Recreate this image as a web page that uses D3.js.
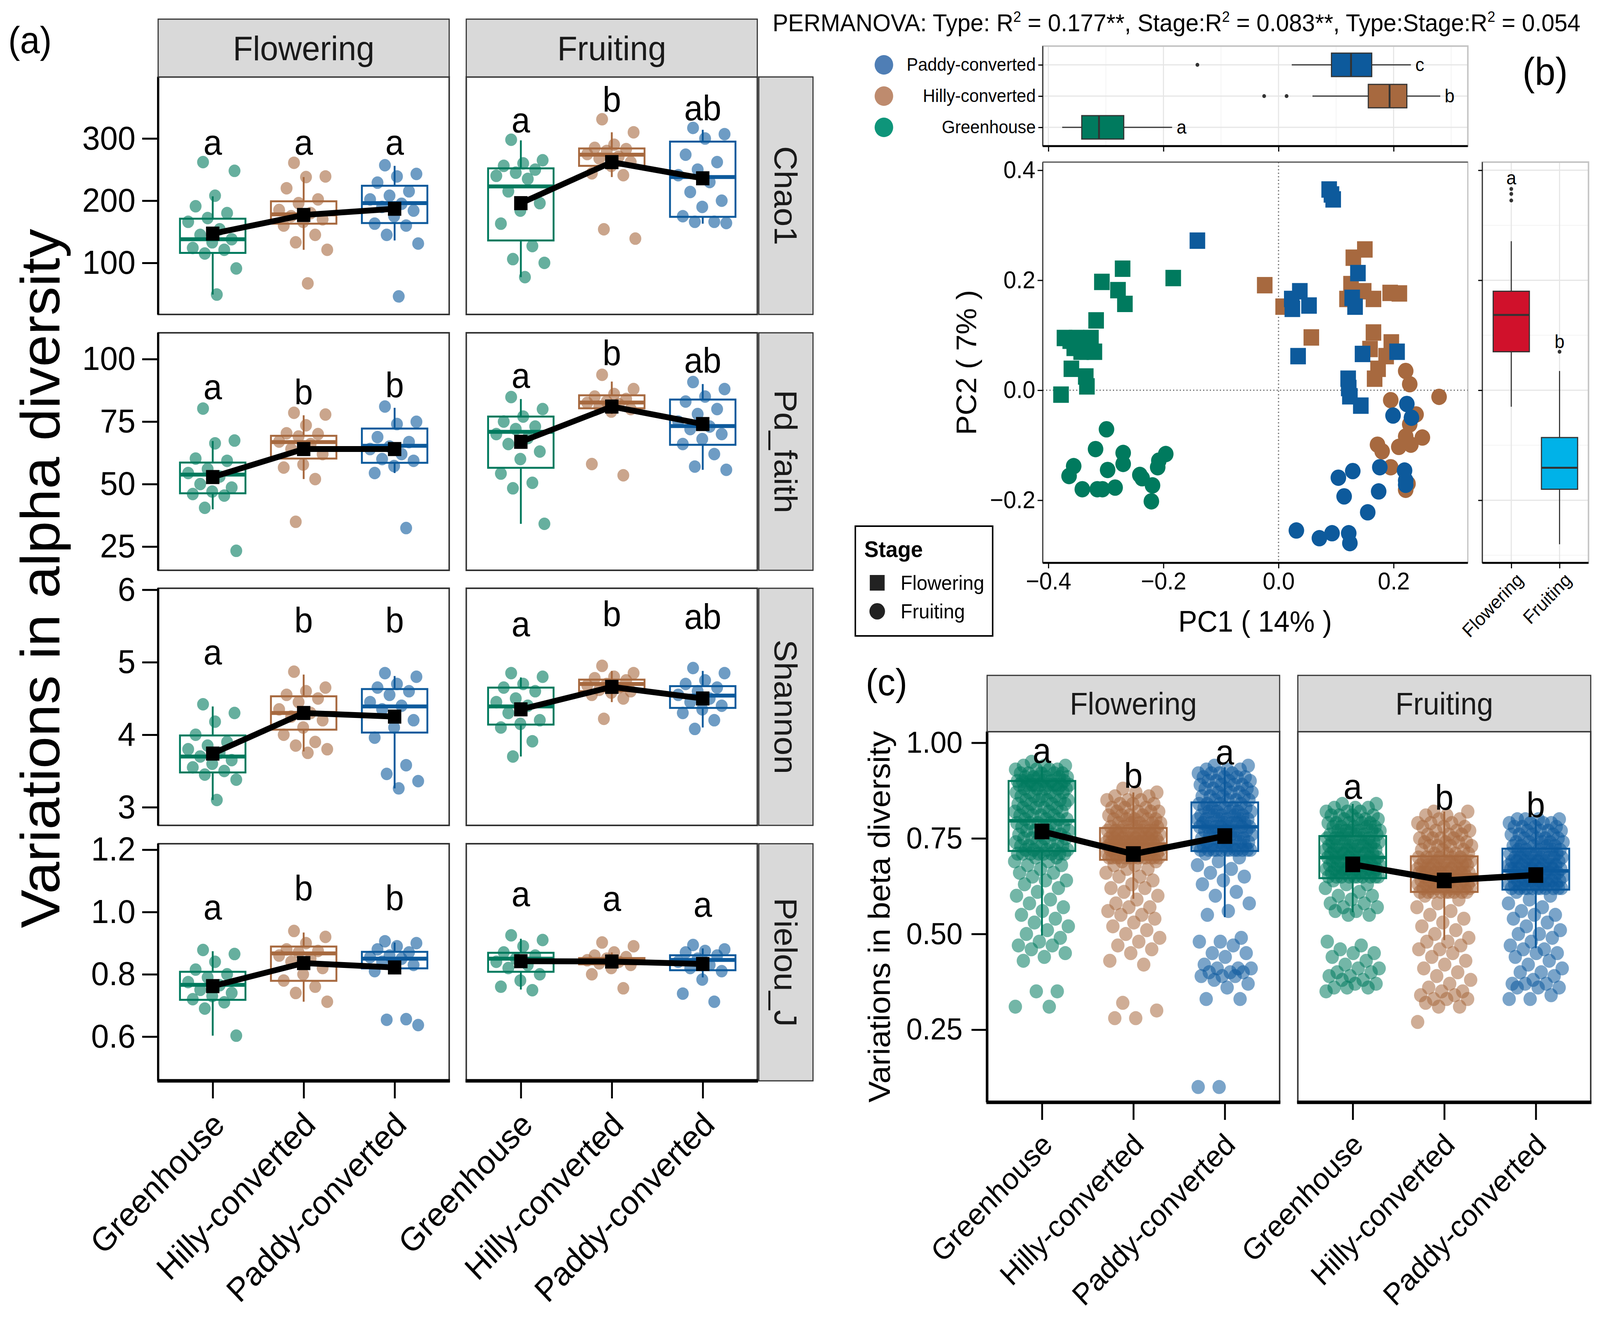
<!DOCTYPE html>
<html><head><meta charset="utf-8">
<script src="https://cdn.jsdelivr.net/npm/d3@7"></script>
<style>
html,body{margin:0;padding:0;background:#fff;overflow:hidden;width:100%;height:100%;}
svg{display:block;font-family:"Liberation Sans",Arial,Helvetica,sans-serif;width:100vw;height:100vh;}
</style></head><body>
<svg id="chart" viewBox="0 0 4310 3410" preserveAspectRatio="none"></svg>
<script>
// ---------------- DATA ----------------
const groups = ["Greenhouse", "Hilly-converted", "Paddy-converted"];
const stages = ["Flowering", "Fruiting"];
const typeColors = ["#007A5E", "#A7693F", "#0D5A9C"];
const legendColors = ["#0E957A", "#BE8B6E", "#4F7EB5"];
const stageColors = ["#D0112B", "#00B2E8"];

const metrics = ["Chao1", "Pd_faith", "Shannon", "Pielou_J"];
const metricDomains = [[17, 399], [15.5, 110.5], [2.75, 6.02], [0.458, 1.219]];
const metricTicks = [[100, 200, 300], [25, 50, 75, 100], [3, 4, 5, 6], [0.6, 0.8, 1.0, 1.2]];
const metricTickFormats = ["d", "d", "d", ".1f"];

// points: [stage][group]
const chao1Points = [
  [[262,248,208,191,180,172,166,154,145,138,133,124,121,115,91,49],
   [261,239,238,220,202,196,185,180,175,170,166,160,145,133,121,67],
   [257,243,239,229,215,208,202,195,190,184,175,163,160,145,131,46]],
  [[298,265,260,256,250,245,240,235,215,196,184,163,127,106,100,77],
   [331,310,290,285,283,280,275,271,268,262,256,244,241,154,139],
   [317,307,300,274,262,250,241,230,214,200,190,175,166,166,164]]
];
const pdPoints = [
  [[80.2,67.4,66.3,60.2,59.3,56,54.4,53,50,48.6,47,46,45.4,40.5,23.3],
   [78.5,77.8,73.5,70.3,70,69,67,66,64,62,57.8,56.6,52,34.9],
   [81,74.9,74,68.8,66.8,65,64,62,60,59.3,57.2,54.4,32.4]],
  [[84.8,80,77,75,73,72,70,68.4,66,63,60,54.2,50.5,48.3,34.1],
   [93.7,88,86,85,84,83,82.5,82,81,80,79,58,53.5],
   [90.8,88,85,83,80,78,75,73,72,70,68,66,62,57,55.7]]
];
const shannonPoints = [
  [[4.42,4.30,4.18,4.0,3.9,3.85,3.8,3.75,3.70,3.65,3.6,3.55,3.5,3.45,3.38,3.10],
   [4.87,4.65,4.6,4.55,4.5,4.45,4.35,4.3,4.25,4.2,4.1,4.0,3.9,3.85,3.8,3.75],
   [4.85,4.8,4.7,4.65,4.6,4.55,4.45,4.4,4.35,4.2,4.1,3.96,3.58,3.46,3.36,3.26]],
  [[4.85,4.8,4.7,4.65,4.6,4.5,4.45,4.4,4.3,4.2,4.15,4.1,3.91,3.70],
   [4.95,4.85,4.8,4.78,4.75,4.7,4.68,4.65,4.62,4.6,4.58,4.55,4.5,4.22],
   [4.92,4.85,4.75,4.7,4.65,4.6,4.55,4.5,4.45,4.4,4.35,4.3,4.2,4.08]]
];
const pielouPoints = [
  [[0.878,0.865,0.84,0.815,0.80,0.79,0.775,0.765,0.75,0.74,0.73,0.72,0.71,0.69,0.603],
   [0.939,0.92,0.9,0.88,0.875,0.87,0.86,0.85,0.84,0.82,0.8,0.78,0.76,0.74,0.712],
   [0.906,0.9,0.89,0.88,0.87,0.86,0.855,0.85,0.84,0.83,0.82,0.81,0.656,0.654,0.637]],
  [[0.925,0.91,0.89,0.87,0.86,0.85,0.84,0.83,0.82,0.8,0.78,0.76,0.749],
   [0.902,0.89,0.87,0.86,0.855,0.85,0.845,0.84,0.835,0.83,0.82,0.8,0.755],
   [0.894,0.88,0.875,0.87,0.86,0.85,0.84,0.83,0.82,0.81,0.783,0.738,0.712]]
];
// box stats [lo, q1, median, q3, hi]: [stage][group]
const chao1Boxes = [
  [[49,116,138,171,207],[121,163,178,199,238],[136,164,196,224,256]],
  [[77,136,223,252,297],[238,256,274,284,310],[163,174,238,295,314]]
];
const pdBoxes = [
  [[39.9,46.3,53.8,58.6,67.2],[52,60.2,66.8,69.3,77.5],[54.4,58.5,65.3,72.2,80.5]],
  [[34.1,56.5,70.9,77,84],[78,80.3,82.6,85.5,91],[55.7,65.7,73.2,83.8,90]]
];
const shannonBoxes = [
  [[3.10,3.48,3.70,3.99,4.39],[3.77,4.07,4.30,4.53,4.83],[3.26,4.03,4.39,4.63,4.81]],
  [[3.70,4.14,4.39,4.65,4.79],[4.45,4.60,4.70,4.76,4.88],[4.10,4.37,4.54,4.67,4.88]]
];
const pielouBoxes = [
  [[0.603,0.718,0.766,0.808,0.874],[0.712,0.779,0.867,0.889,0.934],[0.81,0.819,0.850,0.872,0.902]],
  [[0.751,0.808,0.850,0.869,0.914],[0.82,0.832,0.843,0.852,0.87],[0.79,0.813,0.846,0.861,0.883]]
];
const chao1Means = [[147,177,187],[196,262,236]];
const pdMeans = [[52.8,64,64],[66.9,81,74]];
const shannonMeans = [[3.74,4.30,4.25],[4.35,4.66,4.50]];
const pielouMeans = [[0.762,0.836,0.822],[0.842,0.841,0.833]];

const chao1Letters = [["a","a","a"],["a","b","ab"]];
const pdLetters = [["a","b","b"],["a","b","ab"]];
const shannonLetters = [["a","b","b"],["a","b","ab"]];
const pielouLetters = [["a","b","b"],["a","a","a"]];
const chao1LetterY = [[274,274,274],[310,343,329]];
const pdLetterY = [[83.9,81.9,84.7],[88.5,97.5,94.5]];
const shannonLetterY = [[4.97,5.41,5.41],[5.36,5.50,5.46]];
const pielouLetterY = [[0.976,1.037,1.006],[1.018,1.003,0.984]];

// beta diversity (hundredths), [stage][group]
const betaFloweringGreenhouse = "95 94 94 94 93 93 93 93 92 92 92 92 92 91 91 91 91 91 91 90 90 90 90 90 90 89 89 89 89 89 89 89 89 89 89 88 88 88 88 88 87 87 87 87 86 86 86 86 85 85 85 85 85 84 84 84 84 83 83 83 83 82 82 82 82 81 81 81 81 80 80 80 80 79 79 79 79 78 78 78 78 77 77 77 77 76 76 76 76 75 75 75 75 74 74 74 74 73 73 73 73 72 72 72 72 72 71 71 71 71 71 71 71 71 70 70 69 69 68 68 67 66 66 65 64 64 63 62 61 60 59 58 57 56 55 54 53 52 51 50 49 48 47 47 46 45 44 43 35 35 31 31";
const betaFloweringHilly = "88 87 87 86 86 85 85 85 84 84 84 83 83 83 82 82 82 82 81 81 81 81 80 80 80 80 80 79 79 79 79 79 78 78 78 78 78 77 77 77 77 77 77 77 76 76 76 76 76 76 76 76 75 75 75 75 75 75 75 75 74 74 74 74 74 74 74 74 74 74 74 74 74 73 73 73 73 73 73 73 72 72 72 72 72 72 72 72 71 71 71 71 71 71 71 71 71 70 70 70 70 70 70 70 70 70 70 70 70 70 69 69 68 68 67 67 66 65 65 64 63 62 62 61 60 59 58 57 57 56 55 55 54 53 52 51 50 49 48 47 46 45 43 42 32 30 28 28";
const betaFloweringPaddy = "94 94 93 93 93 92 92 92 92 91 91 91 91 90 90 90 90 89 89 89 89 88 88 88 88 87 87 87 87 86 86 86 86 85 85 85 85 84 84 84 84 83 83 83 83 83 82 82 82 82 82 81 81 81 81 81 80 80 80 80 80 80 79 79 79 79 79 79 78 78 78 78 78 78 78 77 77 77 77 77 76 76 76 76 76 75 75 75 75 75 74 74 74 74 74 73 73 73 73 73 73 72 72 72 72 72 72 72 72 72 72 72 72 71 70 69 68 67 66 65 64 63 61 60 58 56 55 49 48 48 47 45 45 44 42 41 41 41 40 40 40 39 39 39 38 37 36 33 33 10 10";
const betaFruitingGreenhouse = "84 84 83 83 83 82 82 82 81 81 81 81 80 80 80 80 79 79 79 79 79 78 78 78 78 78 77 77 77 77 77 77 76 76 76 76 76 75 75 75 75 75 75 74 74 74 74 74 74 73 73 73 73 73 73 72 72 72 72 72 72 72 71 71 71 71 71 71 71 70 70 70 70 70 70 69 69 69 69 69 69 69 68 68 68 68 68 68 68 67 67 67 67 67 67 67 66 66 66 66 66 66 66 65 65 65 65 65 65 65 65 65 65 64 63 63 62 61 60 60 59 58 58 57 57 56 56 55 55 48 47 46 45 45 44 43 42 41 41 40 40 39 39 38 38 37 37 36 36 36 35";
const betaFruitingHilly = "82 82 81 81 80 80 79 79 79 78 78 78 77 77 77 76 76 76 75 75 75 75 74 74 74 74 73 73 73 73 72 72 72 71 71 71 71 70 70 70 70 70 70 69 69 69 69 69 69 69 68 68 68 68 68 68 68 67 67 67 67 67 67 67 66 66 66 66 66 66 66 66 66 66 66 65 65 65 65 65 65 65 64 64 64 64 64 64 64 63 63 63 63 63 63 63 62 62 62 62 62 62 62 62 61 61 61 61 61 61 61 61 61 60 59 58 57 56 55 54 53 52 51 50 49 48 48 47 46 46 45 44 43 42 41 40 39 38 37 36 35 35 34 34 33 33 33 32 31 31 27";
const betaFruitingPaddy = "80 80 80 80 79 79 79 79 78 78 78 78 77 77 77 77 76 76 76 76 75 75 75 75 74 74 74 74 74 73 73 73 73 73 72 72 72 72 72 71 71 71 71 71 71 70 70 70 70 70 70 70 69 69 69 69 69 69 69 68 68 68 68 68 68 68 67 67 67 67 67 67 67 67 67 66 66 66 66 66 66 65 65 65 65 65 65 65 64 64 64 64 64 64 64 63 63 63 63 63 63 63 62 62 62 62 62 62 62 62 62 62 62 61 60 59 58 57 56 55 55 54 53 52 51 50 50 49 48 47 46 46 45 45 44 43 42 41 40 40 39 38 37 37 37 36 36 36 34 33 33";
const betaPoints = [
  [betaFloweringGreenhouse, betaFloweringHilly, betaFloweringPaddy],
  [betaFruitingGreenhouse, betaFruitingHilly, betaFruitingPaddy]
];
const betaBoxes = [
  [[0.496,0.717,0.796,0.90,0.936],[0.592,0.694,0.735,0.777,0.87],[0.544,0.717,0.78,0.844,0.936]],
  [[0.557,0.646,0.70,0.756,0.84],[0.484,0.61,0.655,0.703,0.82],[0.463,0.616,0.665,0.723,0.80]]
];
const betaMeans = [[0.768,0.709,0.756],[0.682,0.640,0.654]];
const betaLetters = [["a","b","a"],["a","b","b"]];
const betaLetterY = [[0.947,0.882,0.943],[0.853,0.825,0.805]];
const betaDomain = [0.060, 1.029];
const betaTicks = [0.25, 0.50, 0.75, 1.00];

// PCoA coordinates [PC1, PC2]
const pcoaGreenhouseFlowering = [[-0.271,0.221],[-0.307,0.197],[-0.279,0.182],[-0.267,0.157],[-0.183,0.204],[-0.317,0.127],[-0.372,0.095],[-0.351,0.095],[-0.326,0.095],[-0.362,0.090],[-0.330,0.085],[-0.355,0.077],[-0.337,0.077],[-0.343,0.070],[-0.320,0.070],[-0.360,0.039],[-0.335,0.025],[-0.333,0.007],[-0.378,-0.008]];
const pcoaGreenhouseFruiting = [[-0.299,-0.071],[-0.318,-0.107],[-0.270,-0.114],[-0.356,-0.138],[-0.364,-0.156],[-0.297,-0.145],[-0.270,-0.134],[-0.241,-0.154],[-0.208,-0.128],[-0.196,-0.116],[-0.210,-0.140],[-0.219,-0.173],[-0.221,-0.202],[-0.341,-0.180],[-0.315,-0.180],[-0.306,-0.180],[-0.284,-0.177],[-0.237,-0.160]];
const pcoaHillyFlowering = [[0.150,0.256],[0.130,0.241],[-0.024,0.191],[0.126,0.193],[0.148,0.180],[0.165,0.166],[0.194,0.177],[0.210,0.176],[0.119,0.166],[0.057,0.096],[0.165,0.105],[0.159,0.075],[0.196,0.087],[0.187,0.062],[0.173,0.039],[0.167,0.021],[0.008,0.152]];
const pcoaHillyFruiting = [[0.221,0.035],[0.228,0.011],[0.279,-0.012],[0.195,-0.018],[0.239,-0.044],[0.228,-0.062],[0.250,-0.086],[0.221,-0.084],[0.172,-0.099],[0.209,-0.103],[0.230,-0.099],[0.180,-0.111],[0.195,-0.140],[0.221,-0.181],[0.225,-0.170]];
const pcoaPaddyFlowering = [[0.088,0.365],[0.095,0.347],[0.092,0.356],[-0.141,0.272],[0.138,0.213],[0.037,0.180],[0.023,0.166],[0.053,0.154],[0.024,0.148],[0.128,0.168],[0.133,0.152],[0.034,0.062],[0.146,0.066],[0.206,0.070],[0.121,0.021],[0.122,0.004],[0.124,-0.011],[0.143,-0.028]];
const pcoaPaddyFruiting = [[0.223,-0.025],[0.199,-0.046],[0.231,-0.050],[0.176,-0.140],[0.219,-0.146],[0.221,-0.164],[0.221,-0.172],[0.129,-0.147],[0.104,-0.159],[0.114,-0.193],[0.174,-0.184],[0.155,-0.222],[0.031,-0.255],[0.071,-0.269],[0.093,-0.260],[0.122,-0.260],[0.124,-0.278]];
const pcoaSets = [
  [pcoaGreenhouseFlowering, pcoaGreenhouseFruiting],
  [pcoaHillyFlowering, pcoaHillyFruiting],
  [pcoaPaddyFlowering, pcoaPaddyFruiting]
];
const pc1Domain = [-0.4097, 0.329];
const pc2Domain = [-0.3139, 0.4148];
const pcTicks = [-0.4, -0.2, 0.0, 0.2];
const pc2Ticks = [-0.2, 0.0, 0.2, 0.4];
// PC1 box per type [lo,q1,med,q3,hi]
const pc1Boxes = [[-0.376,-0.342,-0.312,-0.269,-0.185],[0.059,0.156,0.193,0.223,0.281],[0.023,0.092,0.126,0.162,0.230]];
const pc1Outliers = [[],[-0.025,0.014],[-0.141]];
const pc1Letters = ["a","b","c"];
// PC2 box per stage
const pc2Boxes = [[-0.030,0.070,0.137,0.180,0.271],[-0.280,-0.180,-0.141,-0.086,0.035]];
const pc2Outliers = [[0.366,0.357,0.345],[0.070]];
const pc2Letters = ["a","b"];
const pc2LetterY = [0.374, 0.077];

// ---------------- DRAWING ----------------
const svg = d3.select("#chart");
svg.append("rect").attr("width",4310).attr("height",3410).attr("fill","#fff");

function jit(j){ return ((j*0.6180339887 + 0.31) % 1) * 2 - 1; }

function styleAxis(g, fs, sw){
  g.attr("font-size", fs).attr("font-family", null);
  g.select(".domain").remove();
  g.selectAll(".tick line").attr("stroke","#000").attr("stroke-width",sw);
  g.selectAll(".tick text").attr("fill","#000");
}
function vbox(g, cx, bw, y, st, color, sw, msw, fill, bstroke){
  const sc = bstroke || color;
  g.append("line").attr("x1",cx).attr("x2",cx).attr("y1",y(st[4])).attr("y2",y(st[3])).attr("stroke",sc).attr("stroke-width",sw);
  g.append("line").attr("x1",cx).attr("x2",cx).attr("y1",y(st[1])).attr("y2",y(st[0])).attr("stroke",sc).attr("stroke-width",sw);
  g.append("rect").attr("x",cx-bw/2).attr("y",y(st[3])).attr("width",bw).attr("height",y(st[1])-y(st[3]))
    .attr("fill",fill||"none").attr("stroke",sc).attr("stroke-width",sw);
  g.append("line").attr("x1",cx-bw/2).attr("x2",cx+bw/2).attr("y1",y(st[2])).attr("y2",y(st[2])).attr("stroke",sc).attr("stroke-width",msw);
}
function hbox(g, cy, bh, x, st, fill, sw, msw){
  g.append("line").attr("y1",cy).attr("y2",cy).attr("x1",x(st[0])).attr("x2",x(st[1])).attr("stroke","#333").attr("stroke-width",sw);
  g.append("line").attr("y1",cy).attr("y2",cy).attr("x1",x(st[3])).attr("x2",x(st[4])).attr("stroke","#333").attr("stroke-width",sw);
  g.append("rect").attr("y",cy-bh/2).attr("x",x(st[1])).attr("height",bh).attr("width",x(st[3])-x(st[1]))
    .attr("fill",fill).attr("stroke","#333").attr("stroke-width",sw);
  g.append("line").attr("y1",cy-bh/2).attr("y2",cy+bh/2).attr("x1",x(st[2])).attr("x2",x(st[2])).attr("stroke","#333").attr("stroke-width",msw);
}
function strip(g, x0, y0, w, h, label, fs, vertical){
  g.append("rect").attr("x",x0).attr("y",y0).attr("width",w).attr("height",h)
    .attr("fill","#D9D9D9").attr("stroke","#333").attr("stroke-width",3);
  const cx = x0 + w/2, cy = y0 + h/2;
  const t = g.append("text").attr("x",cx).attr("y",cy).attr("dy","0.35em").attr("text-anchor","middle")
    .attr("font-size",fs).attr("fill","#1A1A1A").text(label);
  if (vertical) t.attr("transform",`rotate(90,${cx},${cy})`);
}

// ---------- Panel (a) ----------
const aCols = [[426,1210],[1256,2040]];
const aRows = [[197,805],[852,1460],[1506,2113],[2160,2767]];
const aPoints = [chao1Points, pdPoints, shannonPoints, pielouPoints];
const aBoxes = [chao1Boxes, pdBoxes, shannonBoxes, pielouBoxes];
const aMeans = [chao1Means, pdMeans, shannonMeans, pielouMeans];
const aLetters = [chao1Letters, pdLetters, shannonLetters, pielouLetters];
const aLetterY = [chao1LetterY, pdLetterY, shannonLetterY, pielouLetterY];

const gA = svg.append("g");
metrics.forEach((m, r) => {
  const y = d3.scaleLinear().domain(metricDomains[r]).range([aRows[r][1], aRows[r][0]]);
  stages.forEach((s, c) => {
    const x = d3.scalePoint().domain(groups).range(aCols[c]).padding(0.6);
    const unit = x.step();
    const g = gA.append("g");
    g.append("rect").attr("x",aCols[c][0]).attr("y",aRows[r][0]).attr("width",aCols[c][1]-aCols[c][0])
      .attr("height",aRows[r][1]-aRows[r][0]).attr("fill","#fff");
    groups.forEach((grp, gi) => {
      aPoints[r][c][gi].forEach((v, j) => {
        g.append("circle").attr("cx", x(grp) + jit(j)*unit*0.28).attr("cy", y(v)).attr("r",16)
          .attr("fill", typeColors[gi]).attr("fill-opacity",0.6);
      });
    });
    groups.forEach((grp, gi) => {
      vbox(g, x(grp), unit*0.72, y, aBoxes[r][c][gi], typeColors[gi], 5, 10);
    });
    const line = d3.line().x((d,i)=>x(groups[i])).y(d=>y(d));
    g.append("path").attr("d", line(aMeans[r][c])).attr("fill","none").attr("stroke","#000").attr("stroke-width",15);
    aMeans[r][c].forEach((v, gi) => {
      g.append("rect").attr("x",x(groups[gi])-18).attr("y",y(v)-18).attr("width",36).attr("height",36).attr("fill","#000");
    });
    aLetters[r][c].forEach((L, gi) => {
      g.append("text").attr("x",x(groups[gi])).attr("y",y(aLetterY[r][c][gi])).attr("text-anchor","middle")
        .attr("font-size",90).attr("fill","#000").text(L);
    });
    g.append("rect").attr("x",aCols[c][0]).attr("y",aRows[r][0]).attr("width",aCols[c][1]-aCols[c][0])
      .attr("height",aRows[r][1]-aRows[r][0]).attr("fill","none").attr("stroke","#333").attr("stroke-width",4);
    if (c === 0) {
      const ax = g.append("g").attr("transform",`translate(${aCols[0][0]},0)`)
        .call(d3.axisLeft(y).tickValues(metricTicks[r]).tickSize(43).tickPadding(18).tickFormat(d3.format(metricTickFormats[r])));
      styleAxis(ax, 86, 5);
      g.append("line").attr("x1",aCols[0][0]).attr("x2",aCols[0][0]).attr("y1",aRows[r][0]).attr("y2",aRows[r][1]).attr("stroke","#000").attr("stroke-width",6);
    }
    if (r === 3) {
      const ax = g.append("g").attr("transform",`translate(0,${aRows[3][1]})`)
        .call(d3.axisBottom(x).tickSize(45));
      styleAxis(ax, 85, 5);
      ax.selectAll(".tick text").attr("x",0).attr("y",0).attr("dy","0.72em").attr("text-anchor","end")
        .attr("transform","translate(-7,74) rotate(-45)");
      g.append("line").attr("x1",aCols[c][0]-2).attr("x2",aCols[c][1]+2).attr("y1",aRows[3][1]).attr("y2",aRows[3][1]).attr("stroke","#000").attr("stroke-width",9);
    }
    if (r === 0) strip(g, aCols[c][0], 49, aCols[c][1]-aCols[c][0], aRows[0][0]-49, s, 88, false);
    if (c === 1) strip(g, 2044, aRows[r][0], 146, aRows[r][1]-aRows[r][0], m, 86, true);
  });
});
gA.append("text").attr("x",160).attr("y",1481).attr("text-anchor","middle").attr("font-size",148)
  .attr("transform","rotate(-90,160,1481)").attr("fill","#000").text("Variations in alpha diversity");
svg.append("text").attr("x",22).attr("y",136).attr("font-size",96).attr("fill","#000").text("(a)");

// ---------- Panel (b) ----------
const gB = svg.append("g");
const bX0 = 2809, bX1 = 3954;
const xPC = d3.scaleLinear().domain(pc1Domain).range([bX0, bX1]);
const yPC = d3.scaleLinear().domain(pc2Domain).range([1441, 415]);

// PERMANOVA title
const pt = gB.append("text").attr("x",2081).attr("y",80).attr("font-size",63).attr("fill","#000");
const ptParts = [["PERMANOVA: Type: R",0],["2",1],[" = 0.177**, Stage:R",0],["2",1],[" = 0.083**, Type:Stage:R",0],["2",1],[" = 0.054",0]];
ptParts.forEach((p,i) => {
  const ts = pt.append("tspan").text(p[0]);
  if (p[1]) ts.attr("font-size",38).attr("dy",-24);
  else if (i>0 && ptParts[i-1][1]) ts.attr("dy",24);
});

// top boxplot (PC1 by type)
const tY0 = 118, tY1 = 374;
const yType = d3.scalePoint().domain(groups).range([tY1, tY0]).padding(0.6);
const gT = gB.append("g");
gT.append("rect").attr("x",bX0).attr("y",tY0).attr("width",bX1-bX0).attr("height",tY1-tY0).attr("fill","#fff");
[-0.3,-0.1,0.1,0.3].forEach(v => gT.append("line").attr("x1",xPC(v)).attr("x2",xPC(v)).attr("y1",tY0).attr("y2",tY1).attr("stroke","#F3F3F3").attr("stroke-width",2));
pcTicks.forEach(v => gT.append("line").attr("x1",xPC(v)).attr("x2",xPC(v)).attr("y1",tY0).attr("y2",tY1).attr("stroke","#E6E6E6").attr("stroke-width",3));
groups.forEach(gname => gT.append("line").attr("x1",bX0).attr("x2",bX1).attr("y1",yType(gname)).attr("y2",yType(gname)).attr("stroke","#E6E6E6").attr("stroke-width",3));
groups.forEach((gname, gi) => {
  hbox(gT, yType(gname), yType.step()*0.75, xPC, pc1Boxes[gi], typeColors[gi], 3, 5);
  pc1Outliers[gi].forEach(v => gT.append("circle").attr("cx",xPC(v)).attr("cy",yType(gname)).attr("r",5).attr("fill","#333"));
  gT.append("text").attr("x",xPC(pc1Boxes[gi][4])+12).attr("y",yType(gname)+16).attr("font-size",48).attr("fill","#000").text(pc1Letters[gi]);
});
gT.append("rect").attr("x",bX0).attr("y",tY0).attr("width",bX1-bX0).attr("height",tY1-tY0).attr("fill","none").attr("stroke","#C4C4C4").attr("stroke-width",4);
gT.append("line").attr("x1",bX0).attr("x2",bX0).attr("y1",tY0).attr("y2",tY1).attr("stroke","#333").attr("stroke-width",3);
gT.append("line").attr("x1",bX0).attr("x2",bX1).attr("y1",tY1).attr("y2",tY1).attr("stroke","#000").attr("stroke-width",5);
{
  const ax = gT.append("g").attr("transform",`translate(${bX0},0)`).call(d3.axisLeft(yType).tickSize(12).tickPadding(7));
  styleAxis(ax, 46, 3);
  const bx = gT.append("g").attr("transform",`translate(0,${tY1})`).call(d3.axisBottom(xPC).tickValues(pcTicks).tickSize(14).tickFormat(""));
  styleAxis(bx, 46, 3);
}
groups.forEach((gname, gi) => gT.append("circle").attr("cx",2381).attr("cy",yType(gname)).attr("r",25).attr("fill",legendColors[gi]));

// scatter
const gS = gB.append("g");
gS.append("rect").attr("x",bX0).attr("y",415).attr("width",bX1-bX0).attr("height",1441-415).attr("fill","#fff")
  .attr("stroke","#BDBDBD").attr("stroke-width",3);
gS.append("line").attr("x1",xPC(0)).attr("x2",xPC(0)).attr("y1",415).attr("y2",1441).attr("stroke","#666").attr("stroke-width",3).attr("stroke-dasharray","3,6");
gS.append("line").attr("x1",bX0).attr("x2",bX1).attr("y1",yPC(0)).attr("y2",yPC(0)).attr("stroke","#666").attr("stroke-width",3).attr("stroke-dasharray","3,6");
pcoaSets.forEach((sets, gi) => {
  sets.forEach((pts, si) => {
    pts.forEach(p => {
      if (si === 0) {
        gS.append("rect").attr("x",xPC(p[0])-21).attr("y",yPC(p[1])-21).attr("width",42).attr("height",42).attr("fill",typeColors[gi]);
      } else {
        gS.append("circle").attr("cx",xPC(p[0])).attr("cy",yPC(p[1])).attr("r",21).attr("fill",typeColors[gi]);
      }
    });
  });
});
gS.append("line").attr("x1",bX0).attr("x2",bX0).attr("y1",415).attr("y2",1441).attr("stroke","#333").attr("stroke-width",3);
gS.append("line").attr("x1",bX0).attr("x2",bX1).attr("y1",415).attr("y2",415).attr("stroke","#555").attr("stroke-width",3);
gS.append("line").attr("x1",bX0).attr("x2",bX1).attr("y1",1441).attr("y2",1441).attr("stroke","#000").attr("stroke-width",5);
{
  const ax = gS.append("g").attr("transform",`translate(${bX0},0)`).call(d3.axisLeft(yPC).tickValues(pc2Ticks).tickSize(14).tickPadding(6).tickFormat(d3.format(".1f")));
  styleAxis(ax, 62, 3);
  const bx = gS.append("g").attr("transform",`translate(0,1441)`).call(d3.axisBottom(xPC).tickValues(pcTicks).tickSize(14).tickPadding(10).tickFormat(d3.format(".1f")));
  styleAxis(bx, 62, 3);
}
gS.append("text").attr("x",3381).attr("y",1617).attr("text-anchor","middle").attr("font-size",76).attr("fill","#000").text("PC1 ( 14% )");
gS.append("text").attr("x",2630).attr("y",928).attr("text-anchor","middle").attr("font-size",76).attr("fill","#000")
  .attr("transform","rotate(-90,2630,928)").text("PC2 ( 7% )");

// right boxplot (PC2 by stage)
const rX0 = 3993, rX1 = 4279;
const xStage = d3.scalePoint().domain(stages).range([rX0, rX1]).padding(0.6);
const gR = gB.append("g");
gR.append("rect").attr("x",rX0).attr("y",415).attr("width",rX1-rX0).attr("height",1441-415).attr("fill","#fff");
[-0.3,-0.1,0.1,0.3].forEach(v => gR.append("line").attr("x1",rX0).attr("x2",rX1).attr("y1",yPC(v)).attr("y2",yPC(v)).attr("stroke","#F3F3F3").attr("stroke-width",2));
pc2Ticks.forEach(v => gR.append("line").attr("x1",rX0).attr("x2",rX1).attr("y1",yPC(v)).attr("y2",yPC(v)).attr("stroke","#E6E6E6").attr("stroke-width",3));
stages.forEach(s => gR.append("line").attr("x1",xStage(s)).attr("x2",xStage(s)).attr("y1",415).attr("y2",1441).attr("stroke","#E6E6E6").attr("stroke-width",3));
stages.forEach((s, si) => {
  vbox(gR, xStage(s), xStage.step()*0.75, yPC, pc2Boxes[si], "#333", 3, 5, stageColors[si], "#333");
  pc2Outliers[si].forEach(v => gR.append("circle").attr("cx",xStage(s)).attr("cy",yPC(v)).attr("r",5).attr("fill","#333"));
  gR.append("text").attr("x",xStage(s)).attr("y",yPC(pc2LetterY[si])).attr("text-anchor","middle").attr("font-size",48).attr("fill","#000").text(pc2Letters[si]);
});
gR.append("rect").attr("x",rX0).attr("y",415).attr("width",rX1-rX0).attr("height",1441-415).attr("fill","none").attr("stroke","#C4C4C4").attr("stroke-width",4);
gR.append("line").attr("x1",rX0).attr("x2",rX0).attr("y1",415).attr("y2",1441).attr("stroke","#333").attr("stroke-width",3);
gR.append("line").attr("x1",rX0).attr("x2",rX1).attr("y1",1441).attr("y2",1441).attr("stroke","#000").attr("stroke-width",5);
{
  const ax = gR.append("g").attr("transform",`translate(${rX0},0)`).call(d3.axisLeft(yPC).tickValues(pc2Ticks).tickSize(11).tickFormat(""));
  styleAxis(ax, 40, 3);
  const bx = gR.append("g").attr("transform",`translate(0,1441)`).call(d3.axisBottom(xStage).tickSize(14));
  styleAxis(bx, 48, 3);
  bx.selectAll(".tick text").attr("x",0).attr("y",0).attr("dy","0.72em").attr("text-anchor","end")
    .attr("transform","translate(10,22) rotate(-45)");
}

// Stage legend
const gL = gB.append("g");
gL.append("rect").attr("x",2304).attr("y",1347).attr("width",370).attr("height",281).attr("fill","#fff").attr("stroke","#000").attr("stroke-width",4);
gL.append("text").attr("x",2328).attr("y",1426).attr("font-size",58).attr("font-weight","bold").attr("fill","#000").text("Stage");
gL.append("rect").attr("x",2343).attr("y",1472).attr("width",40).attr("height",40).attr("fill","#222");
gL.append("circle").attr("cx",2363).attr("cy",1565).attr("r",21).attr("fill","#222");
gL.append("text").attr("x",2426).attr("y",1510).attr("font-size",52).attr("fill","#000").text(stages[0]);
gL.append("text").attr("x",2426).attr("y",1583).attr("font-size",52).attr("fill","#000").text(stages[1]);

svg.append("text").attr("x",4101).attr("y",218).attr("font-size",100).attr("fill","#000").text("(b)");

// ---------- Panel (c) ----------
const cCols = [[2659,3447],[3496,4285]];
const cY0 = 1873, cY1 = 2822;
const yBeta = d3.scaleLinear().domain(betaDomain).range([cY1, cY0]);
const gC = svg.append("g");
stages.forEach((s, c) => {
  const x = d3.scalePoint().domain(groups).range(cCols[c]).padding(0.6);
  const unit = x.step();
  const g = gC.append("g");
  g.append("rect").attr("x",cCols[c][0]).attr("y",cY0).attr("width",cCols[c][1]-cCols[c][0]).attr("height",cY1-cY0).attr("fill","#fff");
  groups.forEach((grp, gi) => vbox(g, x(grp), unit*0.73, yBeta, betaBoxes[c][gi], typeColors[gi], 5, 9));
  groups.forEach((grp, gi) => {
    const vals = betaPoints[c][gi].trim().split(/\s+/).map(d => +d/100);
    vals.forEach((v, j) => {
      g.append("circle").attr("cx", x(grp) + jit(j)*unit*0.30).attr("cy", yBeta(v)).attr("r",18)
        .attr("fill", typeColors[gi]).attr("fill-opacity",0.55);
    });
  });
  const line = d3.line().x((d,i)=>x(groups[i])).y(d=>yBeta(d));
  g.append("path").attr("d", line(betaMeans[c])).attr("fill","none").attr("stroke","#000").attr("stroke-width",16);
  betaMeans[c].forEach((v, gi) => {
    g.append("rect").attr("x",x(groups[gi])-20).attr("y",yBeta(v)-20).attr("width",40).attr("height",40).attr("fill","#000");
  });
  betaLetters[c].forEach((L, gi) => {
    g.append("text").attr("x",x(groups[gi])).attr("y",yBeta(betaLetterY[c][gi])).attr("text-anchor","middle")
      .attr("font-size",90).attr("fill","#000").text(L);
  });
  g.append("rect").attr("x",cCols[c][0]).attr("y",cY0).attr("width",cCols[c][1]-cCols[c][0]).attr("height",cY1-cY0)
    .attr("fill","none").attr("stroke","#333").attr("stroke-width",4);
  if (c === 0) {
    const ax = g.append("g").attr("transform",`translate(${cCols[0][0]},0)`)
      .call(d3.axisLeft(yBeta).tickValues(betaTicks).tickSize(42).tickPadding(24).tickFormat(d3.format(".2f")));
    styleAxis(ax, 78, 5);
    g.append("line").attr("x1",cCols[0][0]).attr("x2",cCols[0][0]).attr("y1",cY0).attr("y2",cY1).attr("stroke","#000").attr("stroke-width",7);
  }
  const bx = g.append("g").attr("transform",`translate(0,${cY1})`).call(d3.axisBottom(x).tickSize(45));
  styleAxis(bx, 77, 5);
  bx.selectAll(".tick text").attr("x",0).attr("y",0).attr("dy","0.72em").attr("text-anchor","end")
    .attr("transform","translate(-7,74) rotate(-45)");
  g.append("line").attr("x1",cCols[c][0]-2).attr("x2",cCols[c][1]+2).attr("y1",cY1).attr("y2",cY1).attr("stroke","#000").attr("stroke-width",9);
  strip(g, cCols[c][0], 1729, cCols[c][1]-cCols[c][0], cY0-1729, s, 79, false);
});
gC.append("text").attr("x",2397).attr("y",2347).attr("text-anchor","middle").attr("font-size",82)
  .attr("transform","rotate(-90,2397,2347)").attr("fill","#000").text("Variations in beta diversity");
svg.append("text").attr("x",2332).attr("y",1780).attr("font-size",96).attr("fill","#000").text("(c)");
</script></body></html>
